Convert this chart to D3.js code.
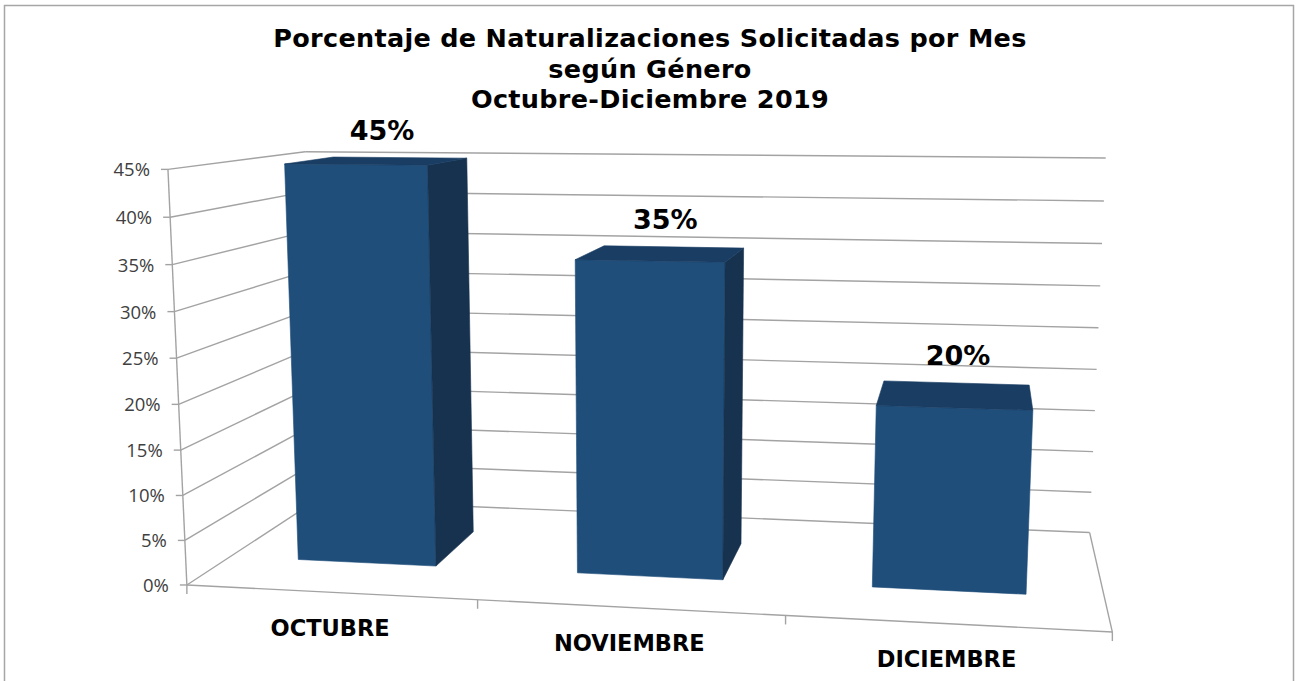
<!DOCTYPE html>
<html>
<head>
<meta charset="utf-8">
<script src="https://cdn.jsdelivr.net/npm/d3@7/dist/d3.min.js"></script>
<style>
  body { margin: 0; background: #fff; }
  svg { display: block; }
</style>
</head>
<body>
<div id="chart"></div>
<script>
'use strict';

// Data
var TITLE_LINES = ['Porcentaje de Naturalizaciones Solicitadas por Mes', 'según Género', 'Octubre-Diciembre 2019'];
var MONTHS = ['OCTUBRE', 'NOVIEMBRE', 'DICIEMBRE'];
var PERCENTS = [0.45, 0.35, 0.20];
var BAR_LABELS = ['45%', '35%', '20%'];
var TICK_VALUES = [0, 0.05, 0.10, 0.15, 0.20, 0.25, 0.30, 0.35, 0.40, 0.45];
var TICK_LABELS = ['0%', '5%', '10%', '15%', '20%', '25%', '30%', '35%', '40%', '45%'];

// Constants for displaying. Unit is pixel.
var WIDTH = 1301;
var HEIGHT = 681;
var FRONT_COLOR = '#1f4e7a';
var TOP_COLOR = '#1a3d63';
var SIDE_COLOR = '#17324f';
var GRID_COLOR = '#a3a3a3';

// World box: x runs over categories 0..3, y is height 0..1, z is depth 0..1.
// Camera is calibrated from where the frame corners sit in the picture.
var FRAME_ANCHORS = [
  [[0, 0, 0], [187, 585]],
  [[0, 1, 0], [168, 169]],
  [[0, 4 / 9, 0], [179, 404]],
  [[1, 0, 0], [477, 600]],
  [[2, 0, 0], [786, 616]],
  [[3, 0, 0], [1112, 632]],
  [[3, 0, 1], [1090, 532]],
  [[3, 5 / 9, 1], [1098, 328]],
  [[3, 1, 1], [1106, 158]],
  [[0, 1, 1], [305, 152]]
];

var BAR_GAP = 0.5;        // share of category width left empty
var BAR_Z = [0.30, 0.69]; // depth of the bars inside the floor

function solveLinear(A, b) {
  var n = b.length;
  var M = A.map(function(row, i) { return row.concat([b[i]]); });
  for (var c = 0; c < n; ++c) {
    var piv = c;
    for (var r = c + 1; r < n; ++r) {
      if (Math.abs(M[r][c]) > Math.abs(M[piv][c])) piv = r;
    }
    var tmp = M[c]; M[c] = M[piv]; M[piv] = tmp;
    for (var r2 = 0; r2 < n; ++r2) {
      if (r2 === c) continue;
      var f = M[r2][c] / M[c][c];
      for (var k = c; k <= n; ++k) M[r2][k] -= f * M[c][k];
    }
  }
  return M.map(function(row, i) { return row[n] / row[i]; });
}

// Direct linear transform, least squares on 11 unknowns
function fitCamera(anchors) {
  var rows = [], rhs = [];
  anchors.forEach(function(a) {
    var X = a[0][0], Y = a[0][1], Z = a[0][2];
    var u = a[1][0] / 1000, v = a[1][1] / 1000;
    rows.push([X, Y, Z, 1, 0, 0, 0, 0, -u * X, -u * Y, -u * Z]); rhs.push(u);
    rows.push([0, 0, 0, 0, X, Y, Z, 1, -v * X, -v * Y, -v * Z]); rhs.push(v);
  });
  var AtA = [], Atb = [];
  for (var i = 0; i < 11; ++i) {
    AtA.push([]);
    Atb.push(0);
    for (var j = 0; j < 11; ++j) {
      var s = 0;
      for (var r = 0; r < rows.length; ++r) s += rows[r][i] * rows[r][j];
      AtA[i].push(s);
    }
    for (var r3 = 0; r3 < rows.length; ++r3) Atb[i] += rows[r3][i] * rhs[r3];
  }
  var p = solveLinear(AtA, Atb);
  p.push(1);
  return p;
}

var P = fitCamera(FRAME_ANCHORS);

function project(X, Y, Z) {
  var w = P[8] * X + P[9] * Y + P[10] * Z + P[11];
  return [1000 * (P[0] * X + P[1] * Y + P[2] * Z + P[3]) / w,
          1000 * (P[4] * X + P[5] * Y + P[6] * Z + P[7]) / w];
}

var x = d3.scaleBand().domain(MONTHS).range([0, 3]).paddingInner(BAR_GAP).paddingOuter(BAR_GAP / 2);
var y = d3.scaleLinear().domain([0, 0.45]).range([0, 1]);

var svg = d3.select('#chart').append('svg')
  .attr('width', WIDTH)
  .attr('height', HEIGHT);

svg.append('rect')
  .attr('width', WIDTH).attr('height', HEIGHT).attr('fill', '#fff');

svg.append('rect')
  .attr('x', 4.5).attr('y', 5.5)
  .attr('width', 1289).attr('height', 720)
  .attr('fill', 'none')
  .attr('stroke', '#a6a6a6')
  .attr('stroke-width', 1.5);

var line = d3.line();
function seg(g, a, b) {
  g.append('path')
    .attr('d', line([a, b]))
    .attr('fill', 'none')
    .attr('stroke', GRID_COLOR)
    .attr('stroke-width', 1.4);
}

var frame = svg.append('g');

// gridlines on side wall and back wall
TICK_VALUES.forEach(function(t) {
  var h = y(t);
  seg(frame, project(0, h, 0), project(0, h, 1));
  seg(frame, project(0, h, 1), project(3, h, 1));
});

// floor front and right edges
seg(frame, project(0, 0, 0), project(3, 0, 0));
seg(frame, project(3, 0, 0), project(3, 0, 1));

// value axis
seg(frame, project(0, 0, 0), project(0, 1, 0));
TICK_VALUES.forEach(function(t) {
  var p = project(0, y(t), 0);
  seg(frame, [p[0] - 7, p[1]], p);
});

// category ticks
d3.range(MONTHS.length + 1).forEach(function(i) {
  var p = project(i, 0, 0);
  seg(frame, p, [p[0], p[1] + 9]);
});

svg.append('g')
  .selectAll('text')
  .data(TICK_VALUES)
  .enter()
  .append('text')
  .text(function(d, i) { return TICK_LABELS[i]; })
  .attr('x', function(d) { return project(0, y(d), 0)[0] - 18; })
  .attr('y', function(d) { return project(0, y(d), 0)[1] + 2; })
  .attr('text-anchor', 'end')
  .attr('dominant-baseline', 'middle')
  .style('font-family', '"Open Sans", sans-serif')
  .style('font-size', '18.5px')
  .style('fill', '#404040');

// bars as boxes; faces kept when they turn toward the camera
function boxFaces(x0, x1, y0, y1, z0, z1) {
  return [
    { kind: 'front', pts: [[x0, y0, z0], [x0, y1, z0], [x1, y1, z0], [x1, y0, z0]] },
    { kind: 'back', pts: [[x0, y0, z1], [x1, y0, z1], [x1, y1, z1], [x0, y1, z1]] },
    { kind: 'side', pts: [[x1, y0, z0], [x1, y1, z0], [x1, y1, z1], [x1, y0, z1]] },
    { kind: 'side', pts: [[x0, y0, z0], [x0, y0, z1], [x0, y1, z1], [x0, y1, z0]] },
    { kind: 'top', pts: [[x0, y1, z0], [x0, y1, z1], [x1, y1, z1], [x1, y1, z0]] },
    { kind: 'bottom', pts: [[x0, y0, z0], [x1, y0, z0], [x1, y0, z1], [x0, y0, z1]] }
  ].map(function(f) {
    f.screen = f.pts.map(function(p) { return project(p[0], p[1], p[2]); });
    f.area = d3.polygonArea(f.screen);
    return f;
  });
}

var bars = MONTHS.map(function(m, i) {
  var faces = boxFaces(x(m), x(m) + x.bandwidth(), 0, y(PERCENTS[i]), BAR_Z[0], BAR_Z[1]);
  var sign = Math.sign(faces[0].area);
  return faces.filter(function(f) { return Math.sign(f.area) === sign && f.kind !== 'bottom'; });
});

var faceColor = { front: FRONT_COLOR, side: SIDE_COLOR, top: TOP_COLOR, back: SIDE_COLOR };

svg.append('g')
  .selectAll('g')
  .data(bars)
  .enter()
  .append('g')
  .selectAll('path')
  .data(function(d) { return d; })
  .enter()
  .append('path')
  .attr('d', function(d) { return 'M' + d.screen.join('L') + 'Z'; })
  .attr('fill', function(d) { return faceColor[d.kind]; })
  .attr('stroke', function(d) { return faceColor[d.kind]; })
  .attr('stroke-width', 0.6)
  .attr('stroke-linejoin', 'round');

// value labels: centred over the bar, sitting above the back edge of its top
function labelX(d, i) {
  return project(x(MONTHS[i]) + x.bandwidth() / 2, y(d), 0.5)[0] + 3;
}
function labelY(d, i) {
  return project(x(MONTHS[i]) + x.bandwidth() / 2, y(d), BAR_Z[1])[1] - 25;
}

svg.append('g')
  .selectAll('text')
  .data(PERCENTS)
  .enter()
  .append('text')
  .text(function(d, i) { return BAR_LABELS[i]; })
  .attr('x', labelX)
  .attr('y', labelY)
  .attr('text-anchor', 'middle')
  .attr('dominant-baseline', 'middle')
  .style('font-family', '"DejaVu Sans", sans-serif')
  .style('font-weight', 'bold')
  .style('font-size', '27px')
  .style('fill', '#000');

// category labels under the floor front edge
svg.append('g')
  .selectAll('text')
  .data(MONTHS)
  .enter()
  .append('text')
  .text(function(d) { return d; })
  .attr('x', function(d, i) { return project(i + 0.5, 0, 0)[0]; })
  .attr('y', function(d, i) { return project(i + 0.5, 0, 0)[1] + 37; })
  .attr('text-anchor', 'middle')
  .attr('dominant-baseline', 'middle')
  .style('font-family', '"DejaVu Sans", sans-serif')
  .style('font-weight', 'bold')
  .style('font-size', '22.5px')
  .style('fill', '#000');

// title
svg.append('g')
  .selectAll('text')
  .data(TITLE_LINES)
  .enter()
  .append('text')
  .text(function(d) { return d; })
  .attr('x', 650)
  .attr('y', function(d, i) { return 40 + i * 30.5; })
  .attr('text-anchor', 'middle')
  .attr('dominant-baseline', 'middle')
  .style('font-family', '"DejaVu Sans", sans-serif')
  .style('font-weight', 'bold')
  .style('font-size', '25.5px')
  .style('letter-spacing', '0.3px')
  .style('fill', '#000');
</script>
</body>
</html>
